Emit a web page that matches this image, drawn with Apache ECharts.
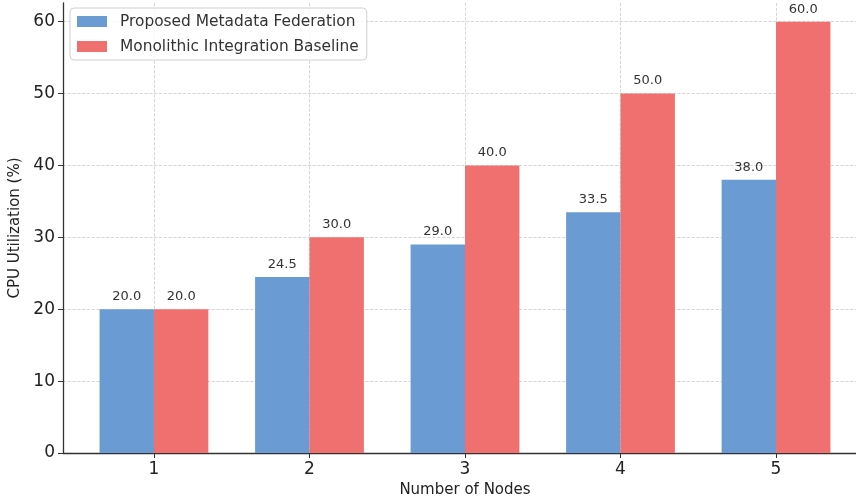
<!DOCTYPE html>
<html>
<head>
<meta charset="utf-8">
<script src="https://cdn.jsdelivr.net/npm/echarts@6/dist/echarts.min.js"></script>
<style>html,body{margin:0;padding:0;background:#fff;overflow:hidden}#c{width:856px;height:501px}</style>
</head>
<body>
<div id="c"></div>
<script>
const categories = [1, 2, 3, 4, 5];
const federation = [20.0, 24.5, 29.0, 33.5, 38.0];
const baseline = [20.0, 30.0, 40.0, 50.0, 60.0];
const seriesNames = ['Proposed Metadata Federation', 'Monolithic Integration Baseline'];
const yTicks = [0, 10, 20, 30, 40, 50, 60];

const FONT = 'DejaVu Sans';
const chart = echarts.init(document.getElementById('c'), null, {renderer: 'canvas'});
const pairs = (vals) => categories.map((c, i) => [c, vals[i]]);
const labelCfg = {
  show: true, position: 'top', distance: 6,
  formatter: p => p.value[1].toFixed(1),
  fontFamily: FONT, fontSize: 13, color: '#333'
};
chart.setOption({
  animation: false,
  textStyle: {fontFamily: FONT},
  grid: {left: 63, width: 804, top: 3, bottom: 48, containLabel: false, outerBoundsMode: 'none'},
  legend: {
    orient: 'vertical', left: 70, top: 8,
    data: seriesNames,
    itemWidth: 30, itemHeight: 11, itemGap: 10,
    padding: [6, 8, 6, 7],
    borderColor: '#d0d0d0', borderWidth: 1, borderRadius: 4,
    backgroundColor: 'rgba(255,255,255,0.85)',
    textStyle: {fontFamily: FONT, fontSize: 15.4, color: '#333', padding: [0, 0, 0, 8]},
    icon: 'rect'
  },
  xAxis: {
    type: 'value', min: 0.415, max: 5.585,
    name: 'Number of Nodes', nameLocation: 'middle', nameGap: 30,
    nameTextStyle: {fontFamily: FONT, fontSize: 15, color: '#222'},
    axisLine: {show: true, lineStyle: {color: '#333', width: 1.3}},
    axisTick: {show: true, length: 5, customValues: categories, lineStyle: {color: '#333', width: 1}},
    axisLabel: {
      fontFamily: FONT, fontSize: 17, color: '#222', margin: 8,
      customValues: categories,
      formatter: v => String(v)
    },
    splitLine: {show: true, lineStyle: {color: '#cccccc', type: 'dashed', width: 0.8}}
  },
  yAxis: {
    type: 'value', min: 0, max: 62.6,
    name: 'CPU Utilization (%)', nameLocation: 'middle', nameGap: 35,
    nameTextStyle: {fontFamily: FONT, fontSize: 15, color: '#222'},
    axisLine: {show: true, lineStyle: {color: '#333', width: 1.3}},
    axisTick: {show: true, length: 5, customValues: yTicks, lineStyle: {color: '#333', width: 1}},
    axisLabel: {
      fontFamily: FONT, fontSize: 17, color: '#222', margin: 8,
      customValues: yTicks,
      formatter: v => String(v)
    },
    splitLine: {show: true, lineStyle: {color: '#cccccc', type: 'dashed', width: 0.8}}
  },
  series: [
    {
      name: seriesNames[0], type: 'bar', data: pairs(federation),
      barWidth: 54.4, barGap: '0%',
      itemStyle: {color: '#6b9bd3'},
      label: labelCfg
    },
    {
      name: seriesNames[1], type: 'bar', data: pairs(baseline),
      barWidth: 54.4, barGap: '0%',
      itemStyle: {color: '#f07070'},
      label: labelCfg
    }
  ]
});
</script>
</body>
</html>
